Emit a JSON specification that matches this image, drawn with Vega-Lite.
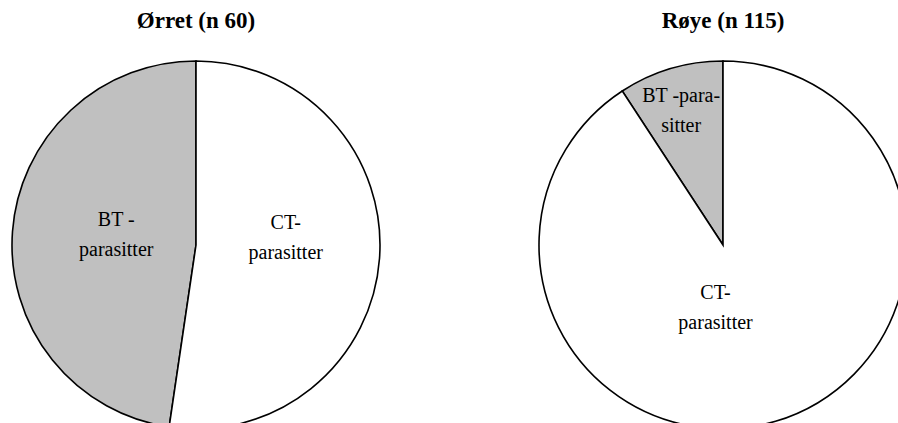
{
  "$schema": "https://vega.github.io/schema/vega-lite/v6.json",
  "background": "white",
  "padding": {"left": 8, "top": 9, "right": 0, "bottom": 0},
  "datasets": {
    "fisk": [
      {"fisk": "Ørret", "kategori": "BT", "antall": 28.6, "etikett": "BT -\nparasitter"},
      {"fisk": "Ørret", "kategori": "CT", "antall": 31.4, "etikett": "CT-\nparasitter"},
      {"fisk": "Røye", "kategori": "BT", "antall": 10.6, "etikett": "BT -para-\nsitter"},
      {"fisk": "Røye", "kategori": "CT", "antall": 104.4, "etikett": "CT-\nparasitter"}
    ]
  },
  "spacing": 151,
  "config": {
    "view": {"stroke": null},
    "title": {"font": "Liberation Serif", "fontSize": 23, "fontWeight": "bold", "color": "black", "anchor": "middle", "offset": 25},
    "text": {"font": "Liberation Serif", "fontSize": 20, "color": "black", "lineBreak": "\n", "lineHeight": 30, "align": "center", "baseline": "middle"}
  },
  "hconcat": [
    {
      "title": {"text": "Ørret (n 60)"},
      "width": 368,
      "height": 368,
      "data": {"name": "fisk"},
      "transform": [{"filter": "datum.fisk === 'Ørret'"}],
      "encoding": {
        "theta": {"field": "antall", "type": "quantitative", "stack": true},
        "order": {"field": "kategori", "type": "ordinal", "sort": "descending"}
      },
      "layer": [
        {
          "mark": {"type": "arc", "outerRadius": 184, "stroke": "black", "strokeWidth": 1.6},
          "encoding": {
            "color": {"field": "kategori", "type": "nominal", "scale": {"domain": ["BT", "CT"], "range": ["#c0c0c0", "#ffffff"]}, "legend": null}
          }
        },
        {
          "mark": {"type": "text", "radius": 80, "dy": -19},
          "encoding": {"text": {"condition": {"test": "datum.kategori === 'BT'", "field": "etikett"}, "value": ""}}
        },
        {
          "mark": {"type": "text", "radius": 90, "dy": -29},
          "encoding": {"text": {"condition": {"test": "datum.kategori === 'CT'", "field": "etikett"}, "value": ""}}
        }
      ]
    },
    {
      "title": {"text": "Røye (n 115)"},
      "width": 368,
      "height": 368,
      "data": {"name": "fisk"},
      "transform": [{"filter": "datum.fisk === 'Røye'"}],
      "encoding": {
        "theta": {"field": "antall", "type": "quantitative", "stack": true},
        "order": {"field": "kategori", "type": "ordinal", "sort": "descending"}
      },
      "layer": [
        {
          "mark": {"type": "arc", "outerRadius": 184, "stroke": "black", "strokeWidth": 1.6},
          "encoding": {
            "color": {"field": "kategori", "type": "nominal", "scale": {"domain": ["BT", "CT"], "range": ["#c0c0c0", "#ffffff"]}, "legend": null}
          }
        },
        {
          "mark": {"type": "text", "radius": 136, "dx": -3, "dy": -19},
          "encoding": {"text": {"condition": {"test": "datum.kategori === 'BT'", "field": "etikett"}, "value": ""}}
        },
        {
          "mark": {"type": "text", "radius": 65, "dx": -26, "dy": -14},
          "encoding": {"text": {"condition": {"test": "datum.kategori === 'CT'", "field": "etikett"}, "value": ""}}
        }
      ]
    }
  ]
}
